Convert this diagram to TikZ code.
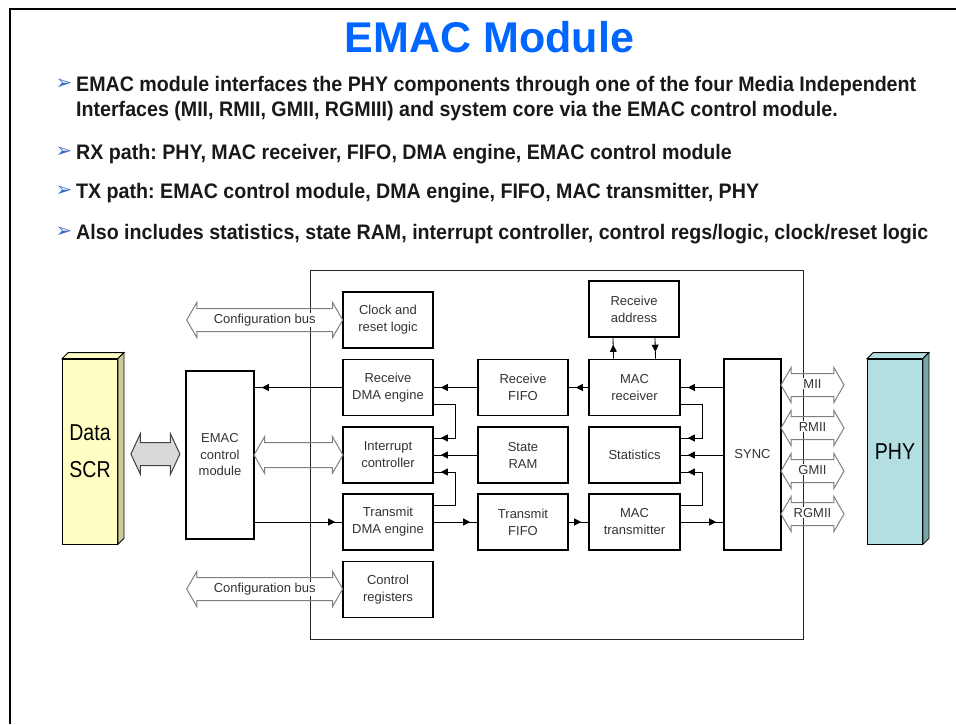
\documentclass[tikz,border=0pt]{standalone}
\usepackage{fontspec}
\setmainfont{Liberation Sans}
\newfontfamily\narrowfont[FakeStretch=0.935]{Liberation Sans}
\newfontfamily\slabfont[FakeStretch=0.85]{Liberation Sans}
\newfontfamily\symfont{DejaVu Sans}
\usetikzlibrary{shapes.arrows,arrows.meta,decorations.markings}
\definecolor{titleblue}{RGB}{0,102,255}
\definecolor{bulletblue}{RGB}{60,110,200}
\definecolor{scrfront}{RGB}{255,255,196}
\definecolor{scrside}{RGB}{206,204,150}
\definecolor{phyfront}{RGB}{180,223,226}
\definecolor{physide}{RGB}{122,166,170}
\newcommand{\wbox}[1]{{\setlength{\fboxsep}{1pt}\colorbox{white}{#1}}}
\frenchspacing
\tikzset{
  blk/.style={draw, line width=1.6pt, minimum width=90pt, minimum height=56pt, inner sep=0pt,
    align=center, font=\fontsize{13}{17}\selectfont, text=black!80},
  conn/.style={line width=0.8pt, postaction={decorate},
    decoration={markings, mark=at position -7pt with {\arrow{Triangle[length=7pt,width=7pt]}}}},
  bus/.style={double arrow, draw=black!50, line width=1pt, double arrow tip angle=120,
    double arrow head extend=6pt, inner xsep=0pt, inner ysep=5pt, text height=9pt, text depth=3pt,
    font=\fontsize{13}{15}\selectfont, text=black!80},
  bullettext/.style={anchor=base west, inner sep=0pt, align=left,
    font=\narrowfont\bfseries\fontsize{21}{25}\selectfont, text=black!90},
  bulletmark/.style={inner sep=0pt, text=bulletblue, font=\symfont\fontsize{20}{20}\selectfont},
  slab/.style={draw, line width=0.8pt, minimum width=55pt, minimum height=185pt, inner sep=0pt,
    align=center, font=\slabfont\fontsize{23}{37}\selectfont},
}
\begin{document}
\begin{tikzpicture}[x=1pt,y=-1pt]
\useasboundingbox (0,0) rectangle (956,724);
\draw[line width=2.5pt] (10,724) -- (10,9) -- (956,9);

\node[anchor=base, text=titleblue, font=\bfseries\fontsize{43}{50}\selectfont] (title) at (489.5,52) {EMAC Module};

\node[bulletmark] (m1) at (64,84) {➢};
\node[bullettext] (b1) at (76,116) {EMAC module interfaces the PHY components through one of the four Media Independent\\Interfaces (MII, RMII, GMII, RGMIII) and system core via the EMAC control module.};
\node[bulletmark] (m2) at (64,152) {➢};
\node[bullettext] (b2) at (76,159) {RX path: PHY, MAC receiver, FIFO, DMA engine, EMAC control module};
\node[bulletmark] (m3) at (64,191) {➢};
\node[bullettext] (b3) at (76,198) {TX path: EMAC control module, DMA engine, FIFO, MAC transmitter, PHY};
\node[bulletmark] (m4) at (64,232) {➢};
\node[bullettext] (b4) at (76,239) {Also includes statistics, state RAM, interrupt controller, control regs/logic, clock/reset logic};

\draw[line width=0.8pt, black!85] (310,270) rectangle (803,639);

\node[blk] (clk) at (388,320) {Clock and\\reset logic};
\node[blk] (rxdma) at (388,387.5) {Receive\\DMA engine};
\node[blk] (intc) at (388,455) {Interrupt\\controller};
\node[blk] (txdma) at (388,522) {Transmit\\DMA engine};
\node[blk] (ctrl) at (388,589.5) {Control\\registers};
\node[blk] (rxfifo) at (523,387.5) {Receive\\FIFO};
\node[blk] (sram) at (523,455) {State\\RAM};
\node[blk] (txfifo) at (523,522) {Transmit\\FIFO};
\node[blk, minimum width=91pt] (macrx) at (634.5,387.5) {MAC\\receiver};
\node[blk, minimum width=91pt] (stats) at (634.5,455) {Statistics};
\node[blk, minimum width=91pt] (mactx) at (634.5,522) {MAC\\transmitter};
\node[blk] (rxaddr) at (634,309) {Receive\\address};
\node[blk, minimum width=57pt, minimum height=191pt] (sync) at (752.5,454.5) {SYNC};
\node[blk, minimum width=68pt, minimum height=168pt, font=\fontsize{13}{16.5}\selectfont] (emac) at (220,455) {EMAC\\control\\module};

\node[slab, fill=scrfront] (data) at (90,451.5) {Data\\SCR};
\filldraw[fill=scrfront, line width=0.8pt] (data.north west) -- ++(6,-6) -- ([shift={(6,-6)}]data.north east) -- (data.north east) -- cycle;
\filldraw[fill=scrside, line width=0.8pt] (data.north east) -- ([shift={(6,-6)}]data.north east) -- ([shift={(6,-6)}]data.south east) -- (data.south east) -- cycle;
\node[slab, fill=phyfront] (phy) at (895,451.5) {PHY};
\filldraw[fill=phyfront, line width=0.8pt] (phy.north west) -- ++(6,-6) -- ([shift={(6,-6)}]phy.north east) -- (phy.north east) -- cycle;
\filldraw[fill=physide, line width=0.8pt] (phy.north east) -- ([shift={(6,-6)}]phy.north east) -- ([shift={(6,-6)}]phy.south east) -- (phy.south east) -- cycle;

\node[bus, fill=black!15, draw=black!75, double arrow tip angle=130, double arrow head extend=9pt, minimum height=49pt, text height=0pt, text depth=0pt, inner ysep=11pt] (dbus) at (155.4,454) {};
\node[bus, minimum height=89pt, text height=0pt, text depth=0pt, inner ysep=12pt] (ibus) at (298.5,455) {};
\node[bus, minimum height=156pt] (cfgtop) at (264.7,320) {\wbox{Configuration bus}};
\node[bus, minimum height=156pt] (cfgbot) at (264.7,589) {\wbox{Configuration bus}};
\node[bus, minimum height=63pt] (mii) at (812.5,385) {\wbox{MII}};
\node[bus, minimum height=63pt] (rmii) at (812.5,428) {\wbox{RMII}};
\node[bus, minimum height=63pt] (gmii) at (812.5,471) {\wbox{GMII}};
\node[bus, minimum height=63pt] (rgmii) at (812.5,514) {\wbox{RGMII}};

\draw[conn] (rxdma.west) -- (emac.east |- rxdma.west);
\draw[conn] (emac.east |- txdma.west) -- (txdma.west);
\draw[conn] (rxfifo.west) -- (rxdma.east);
\draw[conn] (macrx.west) -- (rxfifo.east);
\draw[conn] (sync.west |- macrx.east) -- (macrx.east);
\draw[conn] (txdma.east) -- (txfifo.west);
\draw[conn] (txfifo.east) -- (mactx.west);
\draw[conn] (mactx.east) -- (sync.west |- mactx.east);
\draw[conn] (sync.west |- stats.east) -- (stats.east);
\draw[conn] (sram.west) -- (intc.east);
\draw[conn] ([yshift=-17pt]rxdma.east) -- ++(22,0) |- ([yshift=17pt]intc.east);
\draw[conn] ([yshift=17pt]txdma.east) -- ++(22,0) |- ([yshift=-17pt]intc.east);
\draw[conn] ([yshift=-17pt]macrx.east) -- ++(22,0) |- ([yshift=17pt]stats.east);
\draw[conn] ([yshift=17pt]mactx.east) -- ++(22,0) |- ([yshift=-17pt]stats.east);
\draw[conn] ([xshift=-21pt]macrx.north) -- ([xshift=-21pt]rxaddr.south);
\draw[conn] ([xshift=21pt]rxaddr.south) -- ([xshift=21pt]macrx.north);
\end{tikzpicture}
\end{document}
